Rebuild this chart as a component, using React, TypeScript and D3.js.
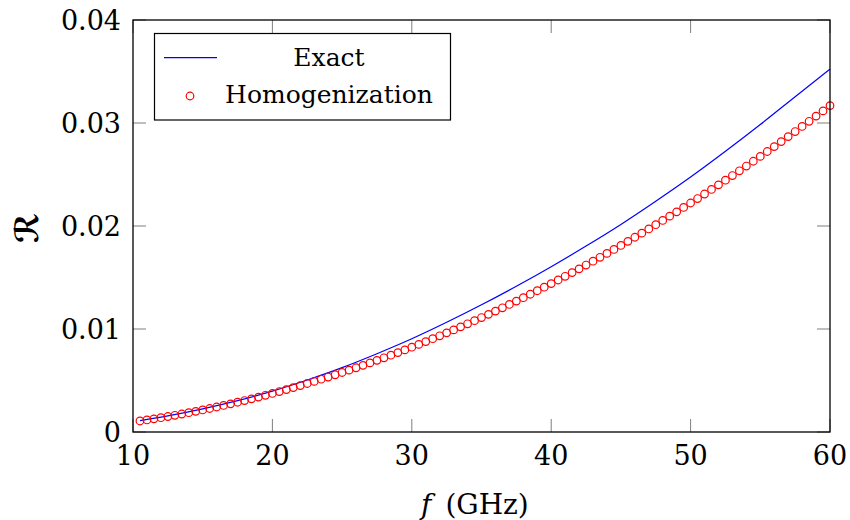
import React from "react";
import * as d3 from "d3";

// Frequency axis (GHz) and reflection coefficient values
const exactFreq = [10.5, 12.5, 15, 17.5, 20, 22.5, 25, 27.5, 30, 32.5, 35, 37.5, 40, 42.5, 45, 47.5, 50, 52.5, 55, 57.5, 60];
const exactR = [0.0011, 0.00156, 0.00224, 0.00304, 0.00397, 0.00505, 0.00625, 0.0076, 0.00905, 0.01065, 0.01235, 0.01415, 0.01605, 0.01805, 0.02015, 0.0224, 0.02475, 0.02725, 0.02985, 0.03255, 0.03523];

const homFreq = [
  10.5, 11, 11.5, 12, 12.5, 13, 13.5, 14, 14.5, 15, 15.5, 16, 16.5, 17, 17.5, 18, 18.5, 19, 19.5, 20,
  20.5, 21, 21.5, 22, 22.5, 23, 23.5, 24, 24.5, 25, 25.5, 26, 26.5, 27, 27.5, 28, 28.5, 29, 29.5, 30,
  30.5, 31, 31.5, 32, 32.5, 33, 33.5, 34, 34.5, 35, 35.5, 36, 36.5, 37, 37.5, 38, 38.5, 39, 39.5, 40,
  40.5, 41, 41.5, 42, 42.5, 43, 43.5, 44, 44.5, 45, 45.5, 46, 46.5, 47, 47.5, 48, 48.5, 49, 49.5, 50,
  50.5, 51, 51.5, 52, 52.5, 53, 53.5, 54, 54.5, 55, 55.5, 56, 56.5, 57, 57.5, 58, 58.5, 59, 59.5, 60,
];
const homR = [
  0.00107, 0.001172, 0.001278, 0.001389, 0.001503, 0.001622, 0.001746, 0.001873, 0.002005, 0.00214,
  0.002282, 0.002428, 0.002577, 0.002732, 0.00289, 0.003053, 0.00322, 0.00339, 0.003565, 0.003744,
  0.003929, 0.004118, 0.004311, 0.004508, 0.004709, 0.004915, 0.005124, 0.005338, 0.005556, 0.005778,
  0.006005, 0.006236, 0.006472, 0.006711, 0.006955, 0.007203, 0.007455, 0.007711, 0.007971, 0.008235,
  0.008504, 0.008778, 0.009056, 0.009338, 0.009624, 0.009913, 0.010207, 0.010506, 0.010808, 0.011113,
  0.011424, 0.011739, 0.01206, 0.012383, 0.01271, 0.013041, 0.013376, 0.013716, 0.014059, 0.014406,
  0.014759, 0.015116, 0.015476, 0.015841, 0.016211, 0.016584, 0.01696, 0.017341, 0.017725, 0.018114,
  0.018508, 0.018907, 0.019308, 0.019713, 0.020124, 0.020538, 0.020956, 0.021376, 0.021802, 0.022233,
  0.022667, 0.023105, 0.023549, 0.023995, 0.024445, 0.024899, 0.025357, 0.025821, 0.026287, 0.026756,
  0.027233, 0.02771, 0.028194, 0.028682, 0.029171, 0.029667, 0.030167, 0.030668, 0.031175, 0.031687,
];

const xTicks = [10, 20, 30, 40, 50, 60];
const yTicks = [0, 0.01, 0.02, 0.03, 0.04];
const yTickLabels = ["0", "0.01", "0.02", "0.03", "0.04"];
const legendLabels = ["Exact", "Homogenization"];

const W = 850;
const H = 520;
const M = { left: 133, right: 830, top: 20, bottom: 432 };
const FONT = "'DejaVu Serif', serif";

export default function App() {
  const x = d3.scaleLinear().domain([10, 60]).range([M.left, M.right]);
  const y = d3.scaleLinear().domain([0, 0.04]).range([M.bottom, M.top]);

  const exactData = exactFreq.map((f, i) => [f, exactR[i]] as [number, number]);
  const line = d3
    .line<[number, number]>()
    .x((d) => x(d[0]))
    .y((d) => y(d[1]))
    .curve(d3.curveMonotoneX);

  const tickLen = 13;
  const markR = 3.8;

  return (
    <div style={{ position: "fixed", left: 0, top: 0 }}>
      <svg width={W} height={H} style={{ display: "block", background: "#fff" }}>
        <defs>
          <clipPath id="plotclip">
            <rect x={M.left - 6} y={M.top - 6} width={M.right - M.left + 12} height={M.bottom - M.top + 12} />
          </clipPath>
        </defs>

        {/* ticks (inside, mirrored) */}
        <g stroke="#7f7f7f" strokeWidth={1}>
          {xTicks.map((t) => (
            <g key={"xt" + t}>
              <line x1={x(t)} x2={x(t)} y1={M.bottom} y2={M.bottom - tickLen} />
              <line x1={x(t)} x2={x(t)} y1={M.top} y2={M.top + tickLen} />
            </g>
          ))}
          {yTicks.map((t) => (
            <g key={"yt" + t}>
              <line x1={M.left} x2={M.left + tickLen} y1={y(t)} y2={y(t)} />
              <line x1={M.right} x2={M.right - tickLen} y1={y(t)} y2={y(t)} />
            </g>
          ))}
        </g>

        {/* data */}
        <g clipPath="url(#plotclip)">
          <path d={line(exactData) || ""} fill="none" stroke="#0000ff" strokeWidth={1.2} />
          {homFreq.map((f, i) => (
            <circle key={"h" + i} cx={x(f)} cy={y(homR[i])} r={markR} fill="none" stroke="#ff0000" strokeWidth={1.2} />
          ))}
        </g>

        {/* frame */}
        <rect
          x={M.left}
          y={M.top}
          width={M.right - M.left}
          height={M.bottom - M.top}
          fill="none"
          stroke="#000"
          strokeWidth={1.3}
        />

        {/* tick labels */}
        <g fontFamily={FONT} fontSize={27} fill="#000">
          {xTicks.map((t) => (
            <text key={"xl" + t} x={x(t)} y={M.bottom + 33} textAnchor="middle">
              {t}
            </text>
          ))}
          {yTicks.map((t, i) => (
            <text key={"yl" + t} x={M.left - 12} y={y(t) + 10} textAnchor="end">
              {yTickLabels[i]}
            </text>
          ))}
        </g>

        {/* axis labels */}
        <text x={421} y={514} fontFamily={FONT} fontSize={28} fill="#000">
          <tspan fontStyle="italic">f</tspan>
          <tspan dx={14}>(GHz)</tspan>
        </text>
        <text
          transform="translate(38,228) rotate(-90)"
          textAnchor="middle"
          fontFamily="'DejaVu Sans', 'DejaVu Serif', sans-serif"
          fontSize={32}
          fontWeight="bold"
          fill="#000"
        >
          ℛ
        </text>

        {/* legend */}
        <g>
          <rect x={154.5} y={33.5} width={296} height={86.5} fill="#fff" stroke="#000" strokeWidth={1.2} />
          <line x1={164} x2={217} y1={57.7} y2={57.7} stroke="#0000ff" strokeWidth={1.2} />
          <circle cx={190} cy={96} r={markR} fill="none" stroke="#ff0000" strokeWidth={1.2} />
          <text x={329} y={66} textAnchor="middle" fontFamily={FONT} fontSize={25} fill="#000">
            {legendLabels[0]}
          </text>
          <text x={329} y={103} textAnchor="middle" fontFamily={FONT} fontSize={25} fill="#000">
            {legendLabels[1]}
          </text>
        </g>
      </svg>
    </div>
  );
}
